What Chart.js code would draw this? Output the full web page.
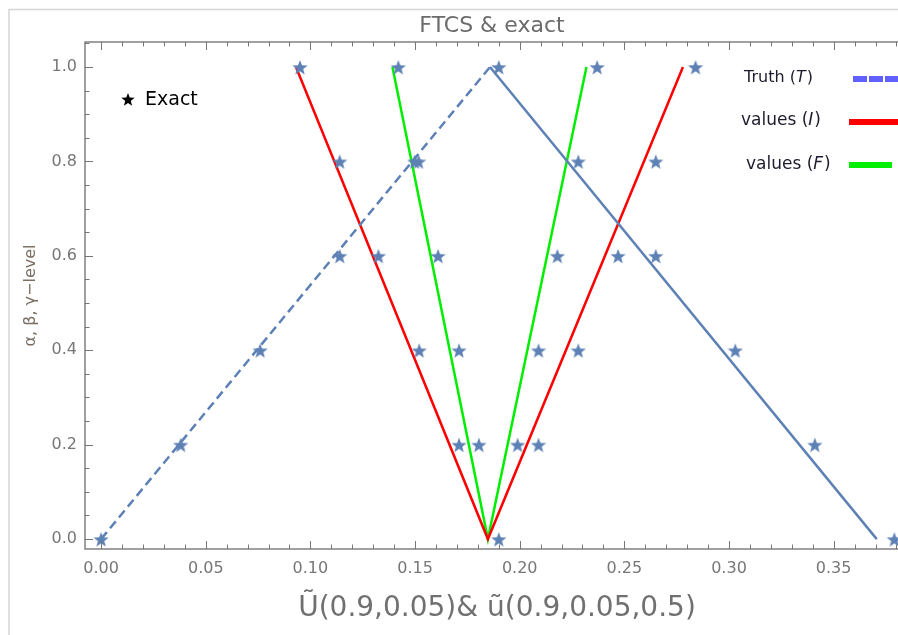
<!DOCTYPE html>
<html>
<head>
<meta charset="utf-8">
<script src="https://cdn.jsdelivr.net/npm/chart.js@4.4.0/dist/chart.umd.min.js"></script>
<style>
  html, body { margin: 0; padding: 0; overflow: hidden; background: #fff; }
</style>
</head>
<body>
<canvas id="chart" width="918" height="635"></canvas>
<script>
// exact solution points (stars)
const exactX = [0.095, 0.142, 0.190, 0.237, 0.284,
                0.114, 0.1498, 0.1517, 0.228, 0.265,
                0.114, 0.1325, 0.161, 0.218, 0.247, 0.265,
                0.076, 0.152, 0.171, 0.209, 0.228, 0.303,
                0.038, 0.171, 0.1805, 0.199, 0.209, 0.341,
                0.0, 0.190, 0.379];
const exactY = [1, 1, 1, 1, 1,
                0.8, 0.8, 0.8, 0.8, 0.8,
                0.6, 0.6, 0.6, 0.6, 0.6, 0.6,
                0.4, 0.4, 0.4, 0.4, 0.4, 0.4,
                0.2, 0.2, 0.2, 0.2, 0.2, 0.2,
                0, 0, 0];

// Truth (T): left branch dashed, right branch solid
const truthX = [0, 0.1858, 0.3706];
const truthY = [0, 1, 0];
// values (I)
const valuesIX = [0.0931, 0.1848, 0.278];
const valuesIY = [1, 0, 1];
// values (F)
const valuesFX = [0.1392, 0.1848, 0.2319];
const valuesFY = [1, 0, 1];

const xTicks = [0, 0.05, 0.10, 0.15, 0.20, 0.25, 0.30, 0.35];
const yTicks = [0, 0.2, 0.4, 0.6, 0.8, 1.0];

const FONT = "'DejaVu Sans', sans-serif";
const BLUE = '#5E81B5';

function pts(xs, ys) {
    return xs.map((x, i) => ({ x: x, y: ys[i] }));
}

function starImage(color, size) {
    const c = document.createElement('canvas');
    c.width = c.height = size;
    const g = c.getContext('2d');
    g.fillStyle = color;
    g.beginPath();
    for (let i = 0; i < 10; i++) {
        const r = i % 2 ? size * 0.21 : size / 2;
        const a = -Math.PI / 2 + i * Math.PI / 5;
        g.lineTo(size / 2 + r * Math.cos(a), size / 2 + 1 + r * Math.sin(a));
    }
    g.closePath();
    g.fill();
    return c;
}

const blueStar = starImage(BLUE, 16);
const blackStar = starImage('#000', 14);

// frame, minor ticks, title and the two legends
const decorations = {
    id: 'decorations',
    afterDraw(chart) {
        const ctx = chart.ctx;
        const { left, right, top, bottom } = chart.chartArea;
        const xs = chart.scales.x, ys = chart.scales.y;
        ctx.save();

        // outer light border of the picture
        ctx.strokeStyle = '#d6d6d6';
        ctx.lineWidth = 1.5;
        ctx.beginPath();
        ctx.moveTo(9, 640);
        ctx.lineTo(9, 9.5);
        ctx.lineTo(918, 9.5);
        ctx.stroke();

        // ticks on all four sides, pointing inward
        ctx.strokeStyle = '#777';
        ctx.lineWidth = 1;
        ctx.beginPath();
        for (let k = 0; k <= 38; k++) {
            const px = Math.round(xs.getPixelForValue(k / 100)) + 0.5;
            const len = k % 5 === 0 ? 8 : 4.5;
            ctx.moveTo(px, bottom); ctx.lineTo(px, bottom - len);
            ctx.moveTo(px, top); ctx.lineTo(px, top + len);
        }
        for (let k = 0; k <= 21; k++) {
            const py = Math.round(ys.getPixelForValue(k * 0.05)) + 0.5;
            const len = k % 4 === 0 ? 8 : 4.5;
            ctx.moveTo(left, py); ctx.lineTo(left + len, py);
            ctx.moveTo(right, py); ctx.lineTo(right - len, py);
        }
        ctx.stroke();

        // frame
        ctx.strokeStyle = '#6e6e6e';
        ctx.lineWidth = 1.3;
        ctx.strokeRect(left, top, right - left, bottom - top);

        // title
        ctx.fillStyle = '#6b6b6b';
        ctx.font = '22px ' + FONT;
        ctx.textAlign = 'center';
        ctx.textBaseline = 'middle';
        ctx.fillText('FTCS & exact', 492, 26);

        // Exact legend
        ctx.drawImage(blackStar, 128 - 7, 99 - 7);
        ctx.fillStyle = '#000';
        ctx.textAlign = 'left';
        ctx.font = '19px ' + FONT;
        ctx.fillText('Exact', 145, 100);

        // right legend
        const entry = (x, y, size, pre, it) => {
            ctx.fillStyle = '#1c1c2c';
            ctx.font = size + 'px ' + FONT;
            ctx.fillText(pre, x, y);
            let w = ctx.measureText(pre).width;
            ctx.font = 'italic ' + size + 'px ' + FONT;
            ctx.fillText(it, x + w, y);
            w += ctx.measureText(it).width + 1;
            ctx.font = size + 'px ' + FONT;
            ctx.fillText(')', x + w, y);
        };
        entry(744, 78, 16, 'Truth (', 'T');
        entry(741, 121, 17, 'values (', 'I');
        entry(746, 165, 17, 'values (', 'F');

        ctx.lineWidth = 6;
        ctx.setLineDash([14, 2]);
        ctx.strokeStyle = '#6060ff';
        ctx.beginPath(); ctx.moveTo(853, 79); ctx.lineTo(918, 79); ctx.stroke();
        ctx.setLineDash([]);
        ctx.strokeStyle = '#ff0000';
        ctx.beginPath(); ctx.moveTo(849, 122); ctx.lineTo(918, 122); ctx.stroke();
        ctx.strokeStyle = '#00ee00';
        ctx.beginPath(); ctx.moveTo(849, 165); ctx.lineTo(892, 165); ctx.stroke();

        ctx.restore();
    }
};

new Chart(document.getElementById('chart'), {
    type: 'scatter',
    data: {
        datasets: [
            {
                label: 'Exact',
                data: pts(exactX, exactY),
                pointStyle: blueStar,
                pointRadius: 8,
                showLine: false
            },
            {
                label: 'Truth (T)',
                data: pts(truthX, truthY),
                showLine: true,
                borderColor: BLUE,
                borderWidth: 2.5,
                pointRadius: 0,
                segment: {
                    borderDash: ctx => ctx.p0DataIndex === 0 ? [9, 5] : undefined
                }
            },
            {
                label: 'values (I)',
                data: pts(valuesIX, valuesIY),
                showLine: true,
                borderColor: '#ff0000',
                borderWidth: 2.5,
                pointRadius: 0
            },
            {
                label: 'values (F)',
                data: pts(valuesFX, valuesFY),
                showLine: true,
                borderColor: '#00ee00',
                borderWidth: 2.5,
                pointRadius: 0
            }
        ]
    },
    options: {
        responsive: false,
        animation: false,
        layout: { padding: { top: 42, right: 5, left: 0, bottom: 0 } },
        plugins: {
            legend: { display: false },
            tooltip: { enabled: false }
        },
        scales: {
            x: {
                type: 'linear',
                min: -0.0077,
                max: 0.386,
                grid: { display: false, drawTicks: false },
                border: { display: false },
                afterBuildTicks: s => { s.ticks = xTicks.map(v => ({ value: v })); },
                afterFit: s => { s.height = 86; },
                ticks: {
                    padding: 10,
                    color: '#777',
                    font: { family: FONT, size: 16 },
                    maxRotation: 0,
                    autoSkip: false,
                    callback: v => v.toFixed(2)
                },
                title: {
                    display: true,
                    text: 'Ũ(0.9,0.05)& ũ(0.9,0.05,0.5)',
                    color: '#707070',
                    font: { family: FONT, size: 28 },
                    padding: { top: 0, bottom: 9 }
                }
            },
            y: {
                type: 'linear',
                min: -0.021,
                max: 1.053,
                grid: { display: false, drawTicks: false },
                border: { display: false },
                afterBuildTicks: s => { s.ticks = yTicks.map(v => ({ value: v })); },
                afterFit: s => { s.width = 85; },
                ticks: {
                    padding: 8,
                    color: '#777',
                    font: { family: FONT, size: 16 },
                    autoSkip: false,
                    callback: v => v.toFixed(1)
                },
                title: {
                    display: true,
                    text: 'α, β, γ−level',
                    color: '#7a6e62',
                    font: { family: FONT, size: 16 },
                    padding: { top: 21, bottom: 0 }
                }
            }
        }
    },
    plugins: [decorations]
});
</script>
</body>
</html>
